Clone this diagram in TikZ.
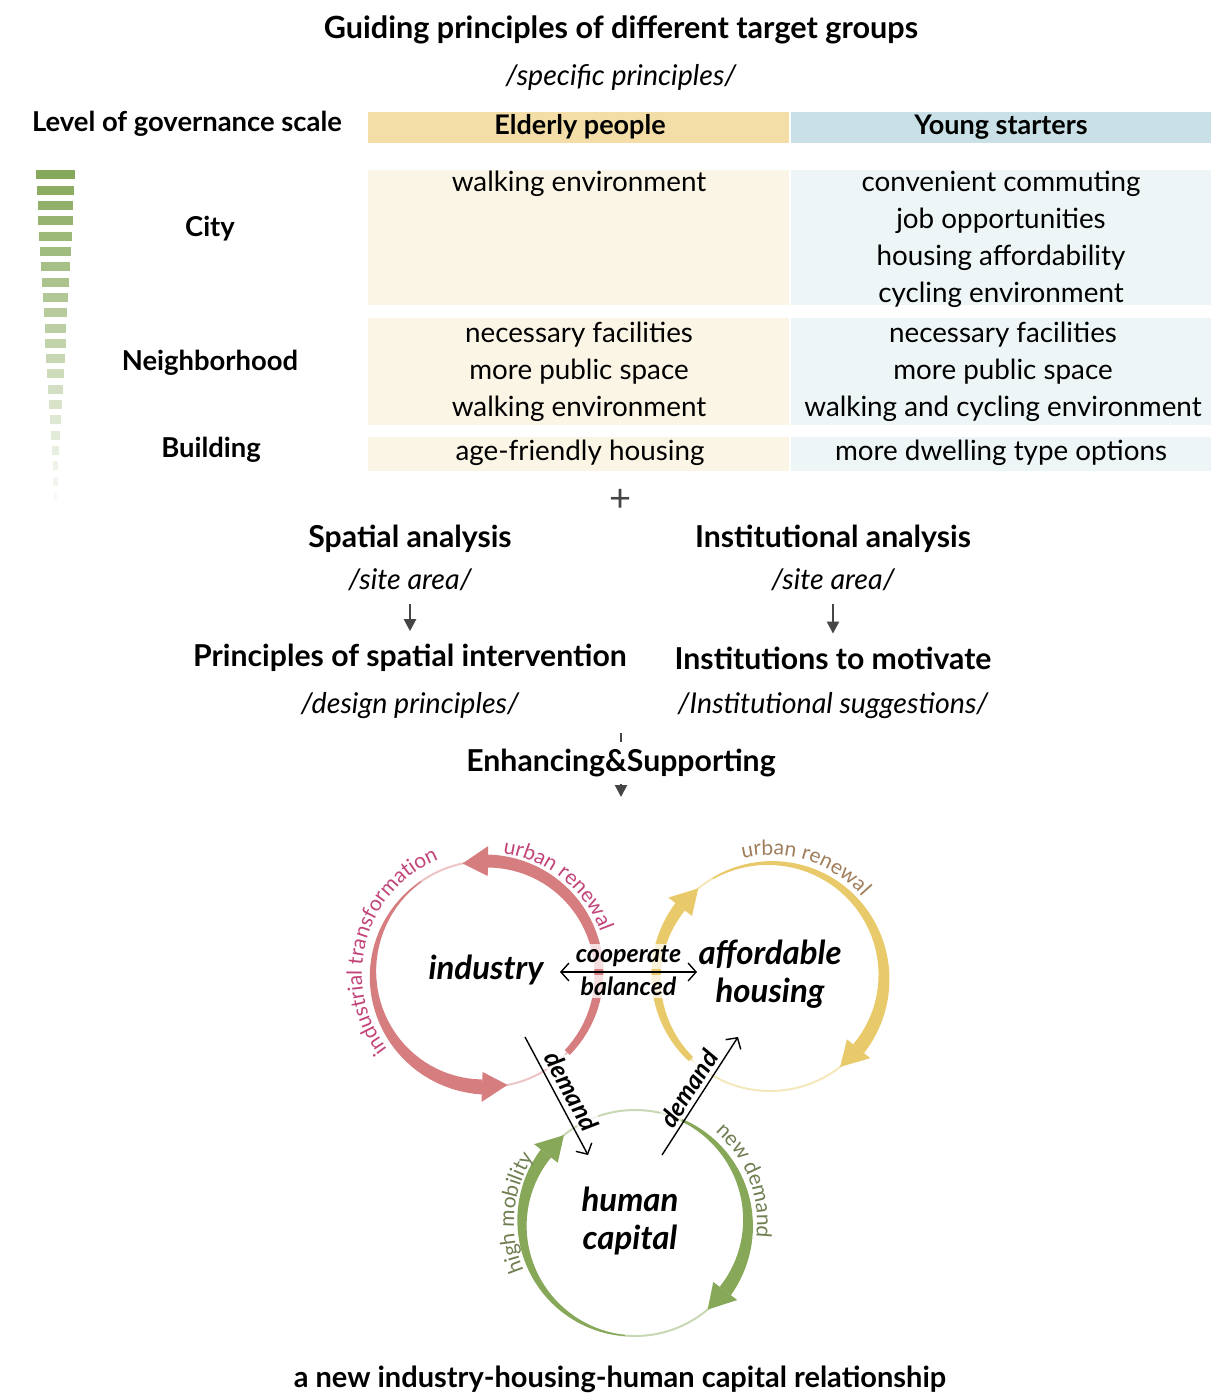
\documentclass[tikz,border=0pt]{standalone}
\usepackage{fontspec}
\setmainfont{Lato}
\usepackage{tikz}
\usetikzlibrary{arrows.meta,positioning,calc,decorations.text}

\definecolor{eldhead}{HTML}{F2DEA6}
\definecolor{younghead}{HTML}{C9E0E6}
\definecolor{eldcell}{HTML}{FBF5E6}
\definecolor{youngcell}{HTML}{EDF5F7}
\definecolor{indcol}{HTML}{D67D80}
\definecolor{indtxt}{HTML}{C2457A}
\definecolor{houcol}{HTML}{E9CA6B}
\definecolor{houtxt}{HTML}{A07E5C}
\definecolor{humcol}{HTML}{86A858}
\definecolor{humtxt}{HTML}{6E7E50}
\definecolor{arrgray}{HTML}{454545}
\definecolor{barcol}{HTML}{86A85A}

% 太さが変わる円弧と矢じり
\newcommand{\cycband}[8]{%
  \pgfmathsetmacro{\cybtip}{#5+13*sign(#5-(#4))}%
  \fill[#8] plot[domain=#4:#5,samples=40,variable=\t]
      ({#1+(#3+(#6+(#7-#6)*(\t-(#4))/((#5)-(#4)))/2)*cos(\t)},{#2+(#3+(#6+(#7-#6)*(\t-(#4))/((#5)-(#4)))/2)*sin(\t)})
    -- plot[domain=#5:#4,samples=40,variable=\t]
      ({#1+(#3-(#6+(#7-#6)*(\t-(#4))/((#5)-(#4)))/2)*cos(\t)},{#2+(#3-(#6+(#7-#6)*(\t-(#4))/((#5)-(#4)))/2)*sin(\t)})
    -- cycle;
  \fill[#8] ({#1+(#3+15)*cos(#5)},{#2+(#3+15)*sin(#5)}) -- ({#1+#3*cos(\cybtip)},{#2+#3*sin(\cybtip)})
    -- ({#1+(#3-15)*cos(#5)},{#2+(#3-15)*sin(#5)}) -- cycle;
}

\begin{document}
\begin{tikzpicture}[x=0.5pt,y=0.5pt,
  titletxt/.style={font=\fontsize{15.3}{18}\selectfont\bfseries},
  headtxt/.style={font=\fontsize{15.1}{18}\selectfont\bfseries},
  colhead/.style={font=\fontsize{13.5}{16}\selectfont\bfseries},
  subtxt/.style={font=\fontsize{14.3}{17}\selectfont\itshape},
  celltxt/.style={font=\fontsize{13.9}{18.5}\selectfont, align=center},
  rowtxt/.style={font=\fontsize{13.7}{16}\selectfont\bfseries},
  cyctxt/.style={font=\fontsize{16.5}{19}\selectfont\bfseries\itshape, align=center},
  linktxt/.style={font=\fontsize{12.5}{14}\selectfont\bfseries\itshape, inner sep=1pt},
  paletxt/.style={fill=white, fill opacity=0.75, text opacity=1},
  flowarr/.style={draw=arrgray, line width=1.1pt, -{Triangle[width=6pt,length=6pt]}},
  linkarr/.style={draw=black, line width=0.7pt}]
  \useasboundingbox (0,0) rectangle (1214,-1396); % 全体の大きさ

  % 上の表
  \node[titletxt] (title) at (621,-30) {Guiding principles of different target groups};
  \node[subtxt] (titlesub) at (621,-77) {/specific principles/};
  \node[rowtxt] (scale) at (187,-124) {Level of governance scale};
  \fill[eldhead] (368,-112) rectangle (789,-143); % 高齢者の見出し
  \fill[younghead] (791,-112) rectangle (1211,-143); % 若者の見出し
  \node[colhead] (eld) at (580,-127) {Elderly people};
  \node[colhead] (young) at (1001,-127) {Young starters};
  \foreach \ya/\yb in {170/305,318/425,437/471} {
    \fill[eldcell] (368,-\ya) rectangle (789,-\yb); % 左の列
    \fill[youngcell] (791,-\ya) rectangle (1211,-\yb); % 右の列
  }
  \node[celltxt] (cityeld) at (579,-184) {walking environment};
  \node[celltxt] (cityyoung) at (1001,-239.5) {convenient commuting\\job opportunities\\housing affordability\\cycling environment};
  \node[celltxt] (neield) at (579,-372) {necessary facilities\\more public space\\walking environment};
  \node[celltxt] (neiyoung) at (1003,-372) {necessary facilities\\more public space\\walking and cycling environment};
  \node[celltxt] (buield) at (580,-453) {age-friendly housing};
  \node[celltxt] (buiyoung) at (1001,-453) {more dwelling type options};
  \node[rowtxt] (city) at (210,-229) {City};
  \node[rowtxt] (nei) at (210,-363) {Neighborhood};
  \node[rowtxt] (bui) at (211,-450) {Building};
  \foreach \i [evaluate=\i as \yc using 175+15.3*\i, evaluate=\i as \hw using 19.7-0.88*\i,
               evaluate=\i as \pct using 100-4.5*\i] in {0,...,21}
    \fill[barcol!\pct!white] (55.5-\hw,-\yc+4.5) rectangle (55.5+\hw,-\yc-4.5); % スケールの棒

  % 中段の流れ
  \node[font=\fontsize{19}{19}\selectfont, text=arrgray] (plus) at (621,-500) {+};
  \node[headtxt] (spa) at (410,-539) {Spatial analysis};
  \node[subtxt] (spasub) at (410,-580) {/site area/};
  \node[headtxt] (spi) at (410,-658) {Principles of spatial intervention};
  \node[subtxt] (spisub) at (410,-706) {/design principles/};
  \node[headtxt] (ins) at (833,-539) {Institutional analysis};
  \node[subtxt] (inssub) at (833,-580) {/site area/};
  \node[headtxt] (inm) at (833,-658) {Institutions to motivate};
  \node[subtxt] (inmsub) at (833,-706) {/Institutional suggestions/};
  \draw[flowarr, shorten <=3pt, shorten >=3pt] (spasub) -- (spi);
  \draw[flowarr, shorten <=3pt, shorten >=3pt] (inssub) -- (inm);
  \node[headtxt] (enh) at (621,-763) {Enhancing\&Supporting};
  \coordinate (enhtop) at (621,-733);
  \coordinate (enhbot) at (621,-797);
  \draw[arrgray, line width=1.1pt] (enhtop) -- (enh.north);
  \draw[flowarr] (enh.south) -- (enhbot);

  % 三つの循環
  \coordinate (ind) at (486,-974);
  \coordinate (hou) at (770,-977);
  \coordinate (hum) at (635,-1223);
  \draw[indcol!45, line width=1pt] (ind) circle[radius=113]; % 産業の円
  \draw[houcol!45, line width=1pt] (hou) circle[radius=114]; % 住宅の円
  \draw[humcol!45, line width=1pt] (hum) circle[radius=113]; % 人的資本の円
  \cycband{486}{-974}{113}{-44}{89}{7}{13}{indcol}
  \cycband{486}{-974}{113}{125}{268}{1}{15}{indcol}
  \cycband{770}{-977}{114}{120}{-39}{1.5}{14}{houcol}
  \cycband{770}{-977}{114}{226}{142}{6}{12}{houcol}
  \cycband{635}{-1223}{113}{265}{142}{1}{13}{humcol}
  \cycband{635}{-1223}{113}{78}{-37}{1}{14}{humcol}
  \path[decorate, decoration={text along path, text align=center,
    text={|\fontsize{10.5}{12}\selectfont\color{indtxt}|urban renewal}}]
    ($(ind)+(82:122)$) arc[start angle=82, end angle=20, radius=122];
  \path[decorate, decoration={text along path, text align=center,
    text={|\fontsize{10.5}{12}\selectfont\color{indtxt}|industrial transformation}}]
    ($(ind)+(216:124)$) arc[start angle=216, end angle=114, radius=124];
  \path[decorate, decoration={text along path, text align=center,
    text={|\fontsize{10.5}{12}\selectfont\color{houtxt}|urban renewal}}]
    ($(hou)+(104:122)$) arc[start angle=104, end angle=40, radius=122];
  \path[decorate, decoration={text along path, text align=center,
    text={|\fontsize{10.5}{12}\selectfont\color{humtxt}|high mobility}}]
    ($(hum)+(204:121)$) arc[start angle=204, end angle=146, radius=121];
  \path[decorate, decoration={text along path, text align=center,
    text={|\fontsize{10.5}{12}\selectfont\color{humtxt}|new demand}}]
    ($(hum)+(50:122)$) arc[start angle=50, end angle=-8, radius=122];
  \node[cyctxt] (industry) at (486,-970) {industry};
  \node[cyctxt] (housing) at (770,-974) {affordable\\housing};
  \node[cyctxt] (capital) at (630,-1221) {human\\capital};
  \coordinate (coopL) at (560,-972);
  \coordinate (coopR) at (697,-972);
  \path (coopL) -- node[linktxt, paletxt, above=1.5pt] (coop) {cooperate}
    node[linktxt, paletxt, below=1.5pt] (bal) {balanced} (coopR);
  \draw[linkarr, {Straight Barb[length=4pt,width=9pt]}-{Straight Barb[length=4pt,width=9pt]}] (coopL) -- (coopR);
  \coordinate (demAs) at (525,-1037);
  \coordinate (demAe) at (588,-1155);
  \coordinate (demBs) at (662,-1155);
  \coordinate (demBe) at (738,-1037);
  \path (demAs) -- node[linktxt, paletxt, sloped, above=2pt, pos=0.52] (demA) {demand} (demAe);
  \path (demBs) -- node[linktxt, paletxt, sloped, above=1pt, pos=0.5] (demB) {demand} (demBe);
  \draw[linkarr, -{Straight Barb[length=4pt,width=9pt]}] (demAs) -- (demAe);
  \draw[linkarr, -{Straight Barb[length=4pt,width=9pt]}] (demBs) -- (demBe);
  \node[font=\fontsize{14.5}{17}\selectfont\bfseries] (relation) at (620,-1379) {a new industry-housing-human capital relationship};
\end{tikzpicture}
\end{document}
